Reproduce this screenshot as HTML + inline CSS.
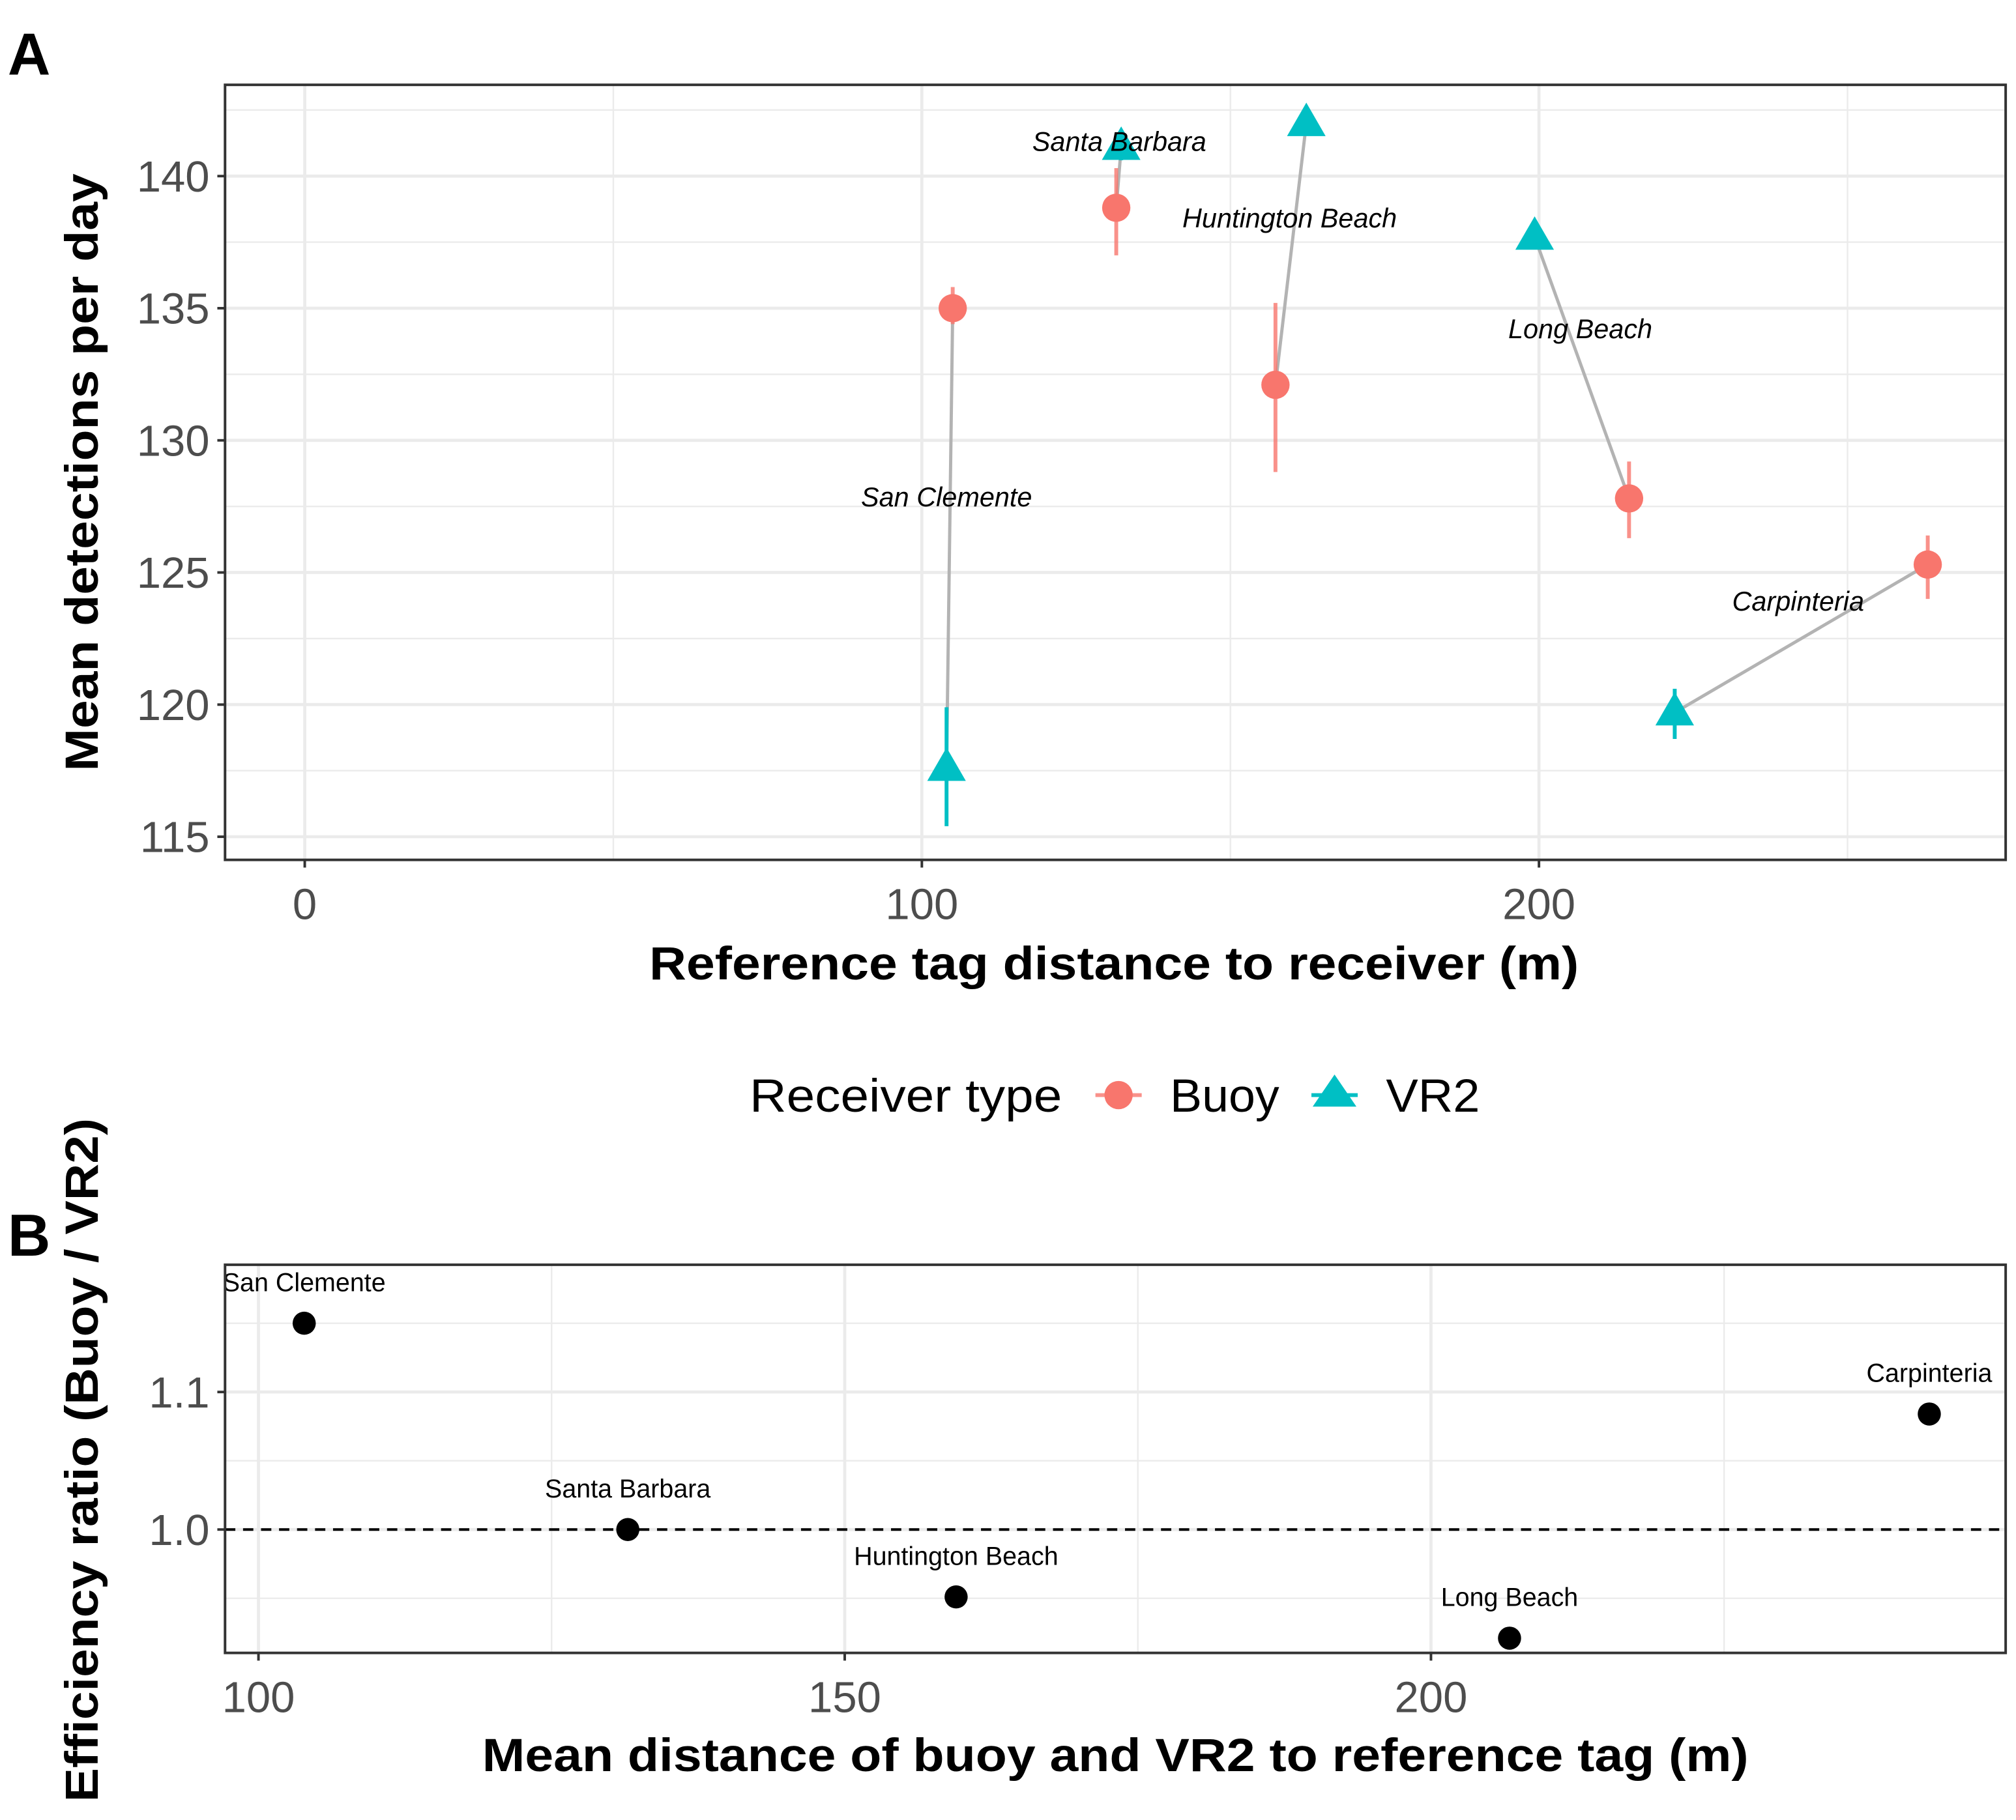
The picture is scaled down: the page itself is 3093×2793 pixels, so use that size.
<!DOCTYPE html>
<html><head><meta charset="utf-8"><style>html,body{margin:0;padding:0;background:#fff}svg{display:block}text{font-family:"Liberation Sans",sans-serif}</style></head>
<body>
<svg id="fig" width="3093" height="2793" viewBox="0 0 1568 1416" xmlns="http://www.w3.org/2000/svg">
<rect width="1568" height="1416" fill="#fff"/>
<text x="6" y="58" font-size="46" font-weight="bold">A</text>
<text x="6" y="977" font-size="46" font-weight="bold">B</text>
<g id="pa"></g>
<g id="pb"></g>
<text x="505" y="762" font-size="36" font-weight="bold" textLength="723" lengthAdjust="spacingAndGlyphs">Reference tag distance to receiver (m)</text>
<text transform="translate(76,600) rotate(-90)" font-size="36" font-weight="bold" textLength="465" lengthAdjust="spacingAndGlyphs">Mean detections per day</text>
<text x="375" y="1378" font-size="36" font-weight="bold" textLength="985" lengthAdjust="spacingAndGlyphs">Mean distance of buoy and VR2 to reference tag (m)</text>
<text transform="translate(76,1402) rotate(-90)" font-size="36" font-weight="bold" textLength="532" lengthAdjust="spacingAndGlyphs">Efficiency ratio (Buoy / VR2)</text>
<g>
<text x="583" y="865" font-size="36" textLength="243" lengthAdjust="spacingAndGlyphs">Receiver type</text>
<g><line x1="852" y1="852" x2="888" y2="852" stroke="#F8766D" stroke-width="3" opacity="0.8"/><circle cx="870" cy="852" r="11" fill="#F8766D"/><text x="910" y="865" font-size="36" textLength="85" lengthAdjust="spacingAndGlyphs">Buoy</text></g>
<g><line x1="1020" y1="852" x2="1056" y2="852" stroke="#00BFC4" stroke-width="3"/><polygon points="1038,836 1055,861 1021,861" fill="#00BFC4"/><text x="1078" y="865" font-size="36" textLength="73" lengthAdjust="spacingAndGlyphs">VR2</text></g>
</g>
</svg>
<script>
const sites=["San Clemente","Santa Barbara","Huntington Beach","Long Beach","Carpinteria"];
const buoyDist=[105,131.5,157.3,214.6,263];
const buoyMean=[135,138.8,132.1,127.8,125.3];
const buoyLo=[134.4,137.0,128.8,126.3,124.0];
const buoyHi=[135.8,140.3,135.2,129.2,126.4];
const vrDist=[104,132.3,162.3,199.3,222];
const vrMean=[117.6,141.1,142.0,137.7,119.7];
const vrLo=[115.4,140.6,141.6,137.3,118.7];
const vrHi=[119.9,141.6,142.4,138.1,120.6];
const labelX=[104,132,159.6,206.7,242];
const labelY=[127.85,141.3,138.4,134.2,123.9];
const aXTicks=[0,100,200];
const aYTicks=[115,120,125,130,135,140];
const ratioDist=[103.9,131.5,159.5,206.7,242.5];
const ratioVal=[1.150,1.000,0.951,0.921,1.084];
const bXTicks=[100,150,200];
const bYTicks=["1.0","1.1"];
const NS="http://www.w3.org/2000/svg";
function mk(p,t,a){const e=document.createElementNS(NS,t);for(const k in a)e.setAttribute(k,a[k]);p.appendChild(e);return e;}
const A={l:175,r:1560,t:66,b:669};
const ax=v=>237+(v-0)*4.8, ay=v=>137+(140-v)*20.56;
const pa=document.getElementById('pa');
let el;
[50,150,250].forEach(v=>{const x=ax(v);el=mk(pa,'line',{x1:x,x2:x,y1:A.t,y2:A.b,stroke:'#ebebeb','stroke-width':1.2});});
[117.5,122.5,127.5,132.5,137.5,142.5].forEach(v=>{el=mk(pa,'line',{x1:A.l,x2:A.r,y1:ay(v),y2:ay(v),stroke:'#ebebeb','stroke-width':1.2});});
aXTicks.forEach(v=>{el=mk(pa,'line',{x1:ax(v),x2:ax(v),y1:A.t,y2:A.b,stroke:'#ebebeb','stroke-width':2.4});
 el=mk(pa,'line',{x1:ax(v),x2:ax(v),y1:A.b,y2:A.b+6,stroke:'#333','stroke-width':2});
 el=mk(pa,'text',{x:ax(v),y:A.b+46,'font-size':34,fill:'#4d4d4d','text-anchor':'middle'});el.textContent=v;});
aYTicks.forEach(v=>{el=mk(pa,'line',{x1:A.l,x2:A.r,y1:ay(v),y2:ay(v),stroke:'#ebebeb','stroke-width':2.4});
 el=mk(pa,'line',{x1:A.l-6,x2:A.l,y1:ay(v),y2:ay(v),stroke:'#333','stroke-width':2});
 el=mk(pa,'text',{x:A.l-12,y:ay(v)+12,'font-size':34,fill:'#4d4d4d','text-anchor':'end'});el.textContent=v;});
sites.forEach((s,i)=>{
 el=mk(pa,'line',{x1:ax(buoyDist[i]),y1:ay(buoyMean[i]),x2:ax(vrDist[i]),y2:ay(vrMean[i]),stroke:'#b3b3b3','stroke-width':2.5});
});
sites.forEach((s,i)=>{
 el=mk(pa,'line',{x1:ax(buoyDist[i]),x2:ax(buoyDist[i]),y1:ay(buoyLo[i]),y2:ay(buoyHi[i]),stroke:'#F8766D','stroke-width':3,opacity:0.8});
 el=mk(pa,'line',{x1:ax(vrDist[i]),x2:ax(vrDist[i]),y1:ay(vrLo[i]),y2:ay(vrHi[i]),stroke:'#00BFC4','stroke-width':3});
 el=mk(pa,'circle',{cx:ax(buoyDist[i]),cy:ay(buoyMean[i]),r:11,fill:'#F8766D'});
 const x=ax(vrDist[i]),y=ay(vrMean[i]);
 el=mk(pa,'polygon',{points:`${x},${y-16} ${x+15},${y+10} ${x-15},${y+10}`,fill:'#00BFC4'});
 el=mk(pa,'text',{x:ax(labelX[i]),y:ay(labelY[i])+7,'font-size':21,'font-style':'italic','text-anchor':'middle'});el.textContent=s;
});
el=mk(pa,'rect',{x:A.l,y:A.t,width:A.r-A.l,height:A.b-A.t,fill:'none',stroke:'#333','stroke-width':2});
const B={l:175,r:1560,t:984,b:1286};
const bx=v=>201+(v-100)*9.12, by=v=>1190-(v-1.0)*1070;
const pb=document.getElementById('pb');
[125,175,225].forEach(v=>{el=mk(pb,'line',{x1:bx(v),x2:bx(v),y1:B.t,y2:B.b,stroke:'#ebebeb','stroke-width':1.2});});
[0.95,1.05,1.15].forEach(v=>{el=mk(pb,'line',{x1:B.l,x2:B.r,y1:by(v),y2:by(v),stroke:'#ebebeb','stroke-width':1.2});});
bXTicks.forEach(v=>{el=mk(pb,'line',{x1:bx(v),x2:bx(v),y1:B.t,y2:B.b,stroke:'#ebebeb','stroke-width':2.4});
 el=mk(pb,'line',{x1:bx(v),x2:bx(v),y1:B.b,y2:B.b+6,stroke:'#333','stroke-width':2});
 el=mk(pb,'text',{x:bx(v),y:B.b+46,'font-size':34,fill:'#4d4d4d','text-anchor':'middle'});el.textContent=v;});
bYTicks.forEach(t=>{const v=parseFloat(t);el=mk(pb,'line',{x1:B.l,x2:B.r,y1:by(v),y2:by(v),stroke:'#ebebeb','stroke-width':2.4});
 el=mk(pb,'line',{x1:B.l-6,x2:B.l,y1:by(v),y2:by(v),stroke:'#333','stroke-width':2});
 el=mk(pb,'text',{x:B.l-12,y:by(v)+12,'font-size':34,fill:'#4d4d4d','text-anchor':'end'});el.textContent=t;});
el=mk(pb,'line',{x1:B.l,x2:B.r,y1:by(1),y2:by(1),stroke:'#000','stroke-width':2,'stroke-dasharray':'8,6'});
const clip=mk(pb,'clipPath',{id:'cb'});mk(clip,'rect',{x:B.l,y:B.t,width:B.r-B.l,height:B.b-B.t});
const lg=mk(pb,'g',{'clip-path':'url(#cb)'});
sites.forEach((s,i)=>{
 el=mk(pb,'circle',{cx:bx(ratioDist[i]),cy:by(ratioVal[i]),r:9,fill:'#000'});
 el=mk(lg,'text',{x:bx(ratioDist[i]),y:by(ratioVal[i])-25,'font-size':20,'text-anchor':'middle'});el.textContent=s;
});
el=mk(pb,'rect',{x:B.l,y:B.t,width:B.r-B.l,height:B.b-B.t,fill:'none',stroke:'#333','stroke-width':2});
</script>
</body></html>
